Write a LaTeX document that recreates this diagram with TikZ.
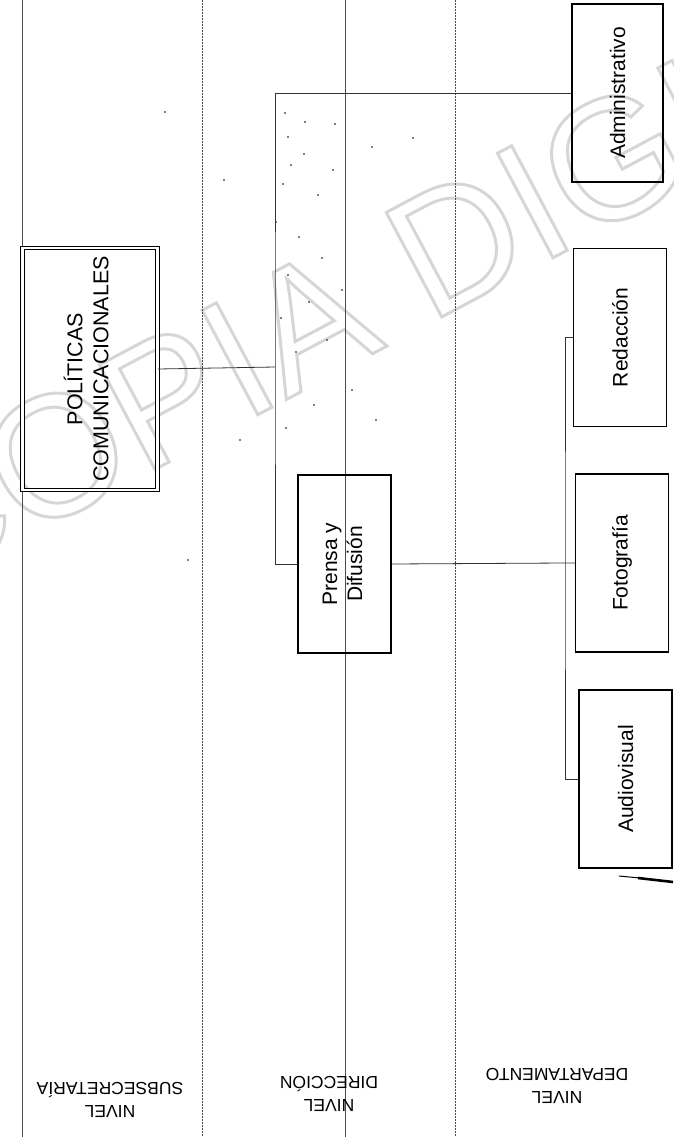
\documentclass[tikz,border=0pt]{standalone}
\usepackage{fontspec}
\setmainfont{Liberation Sans}
\usepackage{graphicx}

\begin{document}
\begin{tikzpicture}[x=1pt,y=-1pt,
  unidad/.style={draw,line width=1.2pt,minimum width=93pt,minimum height=178pt,inner sep=0pt,
    font=\fontsize{21}{25}\selectfont},
  enlace/.style={draw=black!80,line width=0.8pt},
  nivel/.style={draw=black!70,line width=0.8pt},
  corte/.style={nivel,dash pattern=on 2pt off 1pt},
  etiqueta/.style={rotate=180,align=center,font=\fontsize{17.5}{23}\selectfont},
  marca/.style={text=black!16,font=\fontsize{172}{172}\selectfont,inner sep=0pt},
  mota/.style={fill=black,circle,inner sep=0pt,minimum size=1.6pt}]

\useasboundingbox (0,0) rectangle (673,1137);

\node[marca,rotate=28] (copia) at (434,254) {\special{pdf:literal direct 1 Tr 3 w}COPIA DIGITAL};

\draw[nivel] (22,0) -- (22,1137);
\draw[corte] (202,0) -- (202,1137);
\draw[nivel] (345,0) -- (345,1137);
\draw[corte] (455,0) -- (455,1137);

\foreach \px/\py in {285/113,305/122,288/137,335/124,372/147,304/154,291/165,333/170,
  283/184,318/195,276/222,299/237,322/258,288/275,342/290,309/302,281/318,327/340,
  296/352,352/390,314/405,286/428,240/440,376/420,413/138,224/180,165/112,188/560}
  \node[mota] at (\px,\py) {};

\node[unidad,double,double distance=2.5pt,line width=1pt,minimum width=135pt,minimum height=242pt,
  font=\fontsize{21.5}{26}\selectfont] (politicas) at (90,369)
  {\rotatebox{90}{\begin{tabular}{@{}c@{}}POLÍTICAS\\COMUNICACIONALES\end{tabular}}};

\node[unidad] (prensa) at (344.5,564) {\rotatebox{90}{\begin{tabular}{@{}c@{}}Prensa y\\Difusión\end{tabular}}};

\node[unidad,minimum width=91pt] (admin) at (617.5,93) {\rotatebox{90}{Administrativo}};
\node[unidad] (redaccion) at (620,337.5) {\rotatebox{90}{Redacción}};
\node[unidad] (fotografia) at (622,563) {\rotatebox{90}{Fotografía}};
\node[unidad] (audiovisual) at (625.5,779) {\rotatebox{90}{Audiovisual}};

\coordinate (bus) at (275,367);
\coordinate (depto) at (565,563);

\draw[enlace] (politicas.east) -- (bus);
\draw[enlace] (admin.west) -| (bus) |- (prensa.west);
\draw[enlace] (prensa.east) -- (depto) -- (fotografia.west);
\draw[enlace] (redaccion.west) -| (depto) |- (audiovisual.west);

\node[etiqueta] (subsecretaria) at (110,1100) {NIVEL\\SUBSECRETARÍA};
\node[etiqueta] (direccion) at (329,1094) {NIVEL\\DIRECCIÓN};
\node[etiqueta] (departamento) at (557,1086) {NIVEL\\DEPARTAMENTO};

\draw[line width=1pt] (619,876) -- (640,878);
\draw[line width=2.6pt] (638,878) -- (673,882);

\end{tikzpicture}
\end{document}
